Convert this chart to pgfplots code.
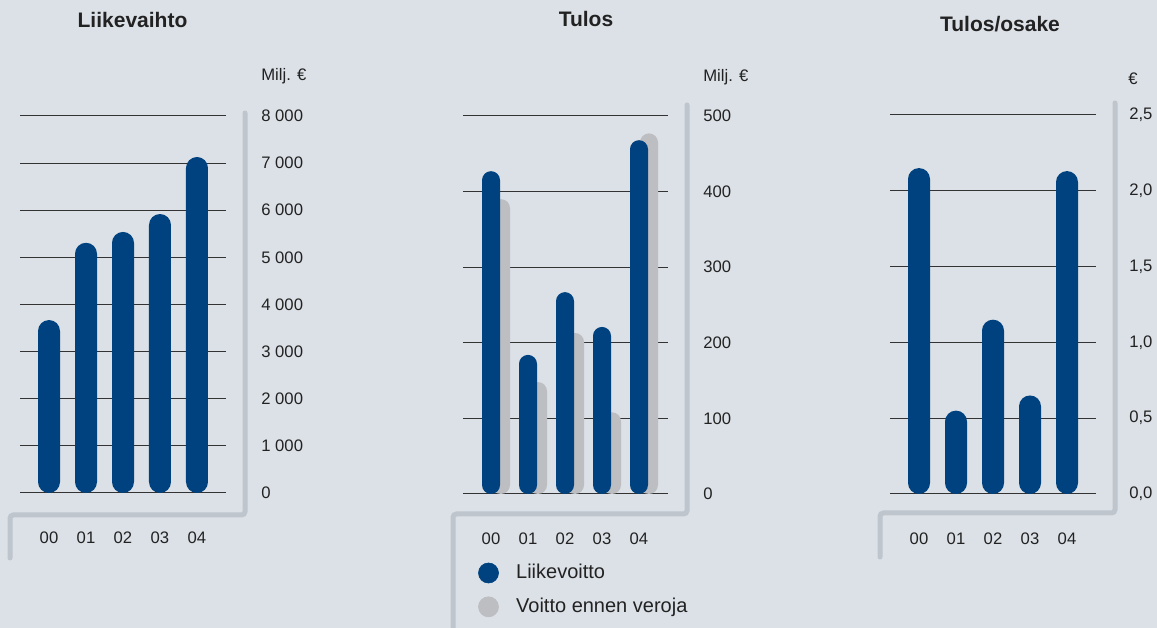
\documentclass[border=0pt]{standalone}
\usepackage{pgfplots}
\pgfplotsset{compat=1.18}
\usepackage{fontspec}
\setmainfont{Liberation Sans}
\definecolor{bgcol}{HTML}{DCE1E7}
\definecolor{barblue}{HTML}{00427F}
\definecolor{bargray}{HTML}{BDBEC1}
\definecolor{framecol}{HTML}{BEC5CD}
\definecolor{txt}{HTML}{222222}
\pgfplotsset{
  panel/.style={
    scale only axis,
    anchor=south west,
    clip=false,
    axis line style={draw=none},
    major tick length=0pt,
    ymajorgrids,
    major grid style={black!80, line width=0.6pt},
    xtick={0,1,2,3,4},
    xticklabels={00,01,02,03,04},
    xmin=-0.784, xmax=4.784,
    ymin=0,
    yticklabel pos=right,
    /pgf/number format/assume math mode=true,
    ticklabel style={font=\fontsize{10}{12}\selectfont, text=txt},
    xticklabel style={anchor=center, inner sep=0pt, yshift=-27pt},
    yticklabel style={anchor=west, inner sep=0pt, xshift=21pt},
  }
}
\begin{document}
\begin{tikzpicture}
\fill[bgcol] (0,0) rectangle (694.2pt,376.8pt);
% frames
\draw[framecol, line width=3pt, line cap=round, rounded corners=2pt] (147pt,309pt) -- (147pt,67.8pt) -- (6pt,67.8pt) -- (6pt,42pt);
\draw[framecol, line width=3pt, line cap=round, rounded corners=2pt] (412.2pt,313.8pt) -- (412.2pt,68.4pt) -- (271.8pt,68.4pt) -- (271.8pt,-3pt);
\draw[framecol, line width=3pt, line cap=round, rounded corners=2pt] (669pt,315pt) -- (669pt,69pt) -- (528pt,69pt) -- (528pt,42.6pt);
% titles
\node[font=\fontsize{12.6}{15}\selectfont\bfseries, text=txt] at (79.5pt,364.8pt) {Liikevaihto};
\node[font=\fontsize{12.6}{15}\selectfont\bfseries, text=txt] at (351.6pt,365.4pt) {Tulos};
\node[font=\fontsize{12.6}{15}\selectfont\bfseries, text=txt] at (600pt,362.4pt) {Tulos/osake};
% units
\node[font=\fontsize{10}{12}\selectfont, text=txt, anchor=west, inner sep=0pt] at (156.6pt,331pt) {Milj. €};
\node[font=\fontsize{10}{12}\selectfont, text=txt, anchor=west, inner sep=0pt] at (421.8pt,330.4pt) {Milj. €};
\node[font=\fontsize{10}{12}\selectfont, text=txt, anchor=west, inner sep=0pt] at (676.8pt,329.8pt) {€};

% Panel 1
\begin{axis}[panel, at={(12pt,81pt)}, width=123.6pt, height=226.2pt,
  ymax=8000, ytick={0,1000,...,8000},
  yticklabels={0,1 000,2 000,3 000,4 000,5 000,6 000,7 000,8 000}]
\addplot[ybar, bar width=13.2pt, fill=barblue, draw=none, rounded corners=6.6pt]
  coordinates {(0,3670) (1,5310) (2,5540) (3,5920) (4,7130)};
\end{axis}

% Panel 2
\begin{axis}[panel, at={(277.8pt,80.4pt)}, width=123pt, height=226.8pt,
  xmin=-0.757,
  ymax=500, ytick={0,100,200,300,400,500},
  yticklabels={0,100,200,300,400,500},
  legend style={draw=none, fill=none, at={(axis description cs:0.048,-0.168)}, anchor=north west,
    font=\fontsize{12}{14}\selectfont, text=txt, row sep=6.1pt, column sep=8.4pt},
  legend cell align=left]
\addlegendimage{legend image code/.code={\fill[barblue] (0pt,0pt) circle (6pt);}}
\addlegendentry{Liikevoitto}
\addlegendimage{legend image code/.code={\fill[bargray] (0pt,0pt) circle (6pt);}}
\addlegendentry{Voitto ennen veroja}
\addplot[ybar, bar width=10.8pt, bar shift=6pt, fill=bargray, draw=none, rounded corners=5.4pt, forget plot]
  coordinates {(0,390) (1,148) (2,213) (3,108) (4,477)};
\addplot[ybar, bar width=10.8pt, bar shift=0pt, fill=barblue, draw=none, rounded corners=5.4pt, forget plot]
  coordinates {(0,427) (1,184) (2,267) (3,221) (4,468)};
\end{axis}

% Panel 3
\begin{axis}[panel, at={(534pt,80.4pt)}, width=123.6pt, height=227.4pt,
  ymax=2.5, ytick={0,0.5,1,1.5,2,2.5},
  yticklabels={{0,0},{0,5},{1,0},{1,5},{2,0},{2,5}},
  yticklabel style={xshift=-1.2pt}]
\addplot[ybar, bar width=13.2pt, fill=barblue, draw=none, rounded corners=6.6pt]
  coordinates {(0,2.15) (1,0.55) (2,1.15) (3,0.65) (4,2.13)};
\end{axis}
\pgfresetboundingbox
\useasboundingbox (0,0) rectangle (694.2pt,376.8pt);
\end{tikzpicture}
\end{document}
